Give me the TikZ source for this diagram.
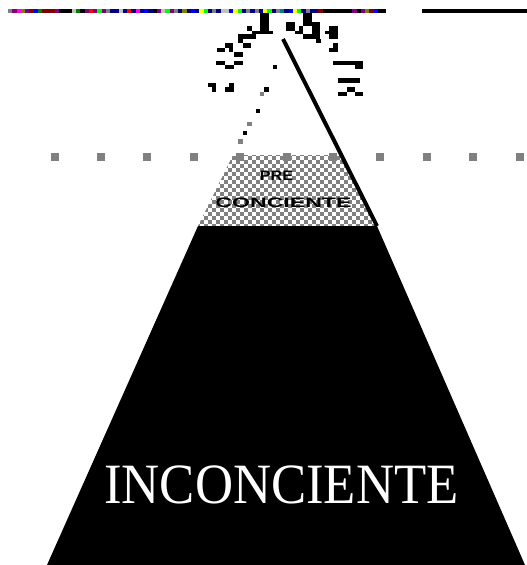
\documentclass[tikz,border=0pt]{standalone}
\usepackage{fontspec}
\setmainfont{Liberation Serif}
\newfontfamily\sansb{Liberation Sans}
\definecolor{gry}{HTML}{808080}
\definecolor{pur}{HTML}{800080}
\definecolor{mag}{HTML}{FF00FF}
\definecolor{oli}{HTML}{808000}
\definecolor{mar}{HTML}{800000}
\definecolor{blu}{HTML}{0000FF}
\definecolor{gre}{HTML}{008000}
\definecolor{blk}{HTML}{000000}
\definecolor{sil}{HTML}{C0C0C0}
\definecolor{red}{HTML}{FF0000}
\definecolor{lim}{HTML}{00FF00}
\definecolor{nav}{HTML}{000080}
\definecolor{yel}{HTML}{FFFF00}
\definecolor{tea}{HTML}{008080}
\tikzset{
  pix/.style={fill=black},
  gpix/.style={fill=gry},
  marker/.style={fill=gry},
  bigtext/.style={text=white, font=\fontsize{57}{60}\selectfont, inner sep=0pt, anchor=base},
  smalltext/.style={text=black, font=\sansb\bfseries\fontsize{14}{14}\selectfont, inner sep=0pt, anchor=base},
}
\begin{document}
\begin{tikzpicture}[x=1pt,y=-1pt]
\useasboundingbox (0,0) rectangle (527,565);
\fill[white] (0,0) rectangle (527,565);
% top colour strip
\foreach \c [count=\i from 0] in {gry,pur,mag,oli,pur,mar,blu,gre,mar,mar,mar,pur,blk,blk,blk,sil,gre,blk,pur,red,pur,lim,pur,gry,nav,nav,sil,nav,red,nav,mag,nav,blu,nav,blk,pur,sil,lim,pur,gry,nav,oli,nav,blu,nav,yel,lim,nav,gry,nav,sil,sil,blu,yel,lim,nav,gry,nav,gry,nav,yel,lim,nav,gry,tea,nav,blu,yel,lim,nav,gry,nav,nav,mar,blk,blk,blk,blk,blk,blk,blk,pur,blk,pur,oli,mar,blu,blk,blk}
  {\fill[\c] ({8+4.25*\i},9) rectangle ++(4.3,4);}
\fill[black] (422,9) rectangle (527,13);
% checkered pre-conscious band
\begin{scope}
\clip (233,155) -- (340,155) -- (377,226) -- (198,226) -- cycle;
\foreach \j in {0,...,18} {
  \pgfmathtruncatemacro\off{mod(\j,2)*4}
  \foreach \i in {0,...,23} {
    \fill[gry] ({196+8*\i+\off},{152+4*\j}) rectangle ++(4,4);
  }
}
\end{scope}
% dotted level line
\foreach \x in {55,101,147,194,240,287,333,380,427,473,520}
  \fill[marker] ({\x-4},153) rectangle ++(8,8);
% unconscious trapezoid
\fill[black] (198,226) -- (377,226) -- (525,565) -- (47,565) -- cycle;
% right edge line
\coordinate (apex) at (283,39);
\coordinate (base) at (377,226);
\draw[line width=4pt] (apex) -- (base);
% left dotted edge
\fill[gpix] (260,92) rectangle (264,96);
\fill[pix] (256,109) rectangle (260,113);
\fill[gpix] (247,122) rectangle (252,126);
\fill[pix] (243,131) rectangle (247,135);
\fill[gpix] (238,139) rectangle (243,144);
% scattered pixels at the tip
\foreach \a/\b/\c/\d in {
 260/13/269/34, 264/31/273/34, 247/26/252/31, 252/31/260/34, 238/34/256/39,
 238/39/243/43, 243/43/251/48, 225/43/233/48, 217/48/225/52, 229/48/233/52,
 234/52/243/57, 216/61/225/65, 234/61/243/65, 225/65/234/69, 273/65/277/69,
 208/83/216/87, 212/87/216/92, 229/83/234/87, 225/87/234/92, 264/87/269/92,
 286/22/295/31, 295/31/303/34, 303/13/312/26, 312/22/320/39, 299/26/303/34,
 303/34/316/39, 316/39/321/43, 329/26/338/39, 325/31/329/34, 333/43/338/52,
 329/48/333/52, 333/61/363/65, 355/65/363/69, 338/78/360/83, 347/87/355/92,
 338/92/347/96, 355/92/363/96}
  \fill[pix] (\a,\b) rectangle (\c,\d);
% labels
\node[smalltext] (pre) at (276.5,180) {\scalebox{1.15}[0.98]{PRE}};
\node[smalltext] (conc) at (283.5,207) {\scalebox{1.65}[0.98]{CONCIENTE}};
\node[bigtext] (inc) at (281.5,503) {\scalebox{0.925}[1]{INCONCIENTE}};
\end{tikzpicture}
\end{document}
